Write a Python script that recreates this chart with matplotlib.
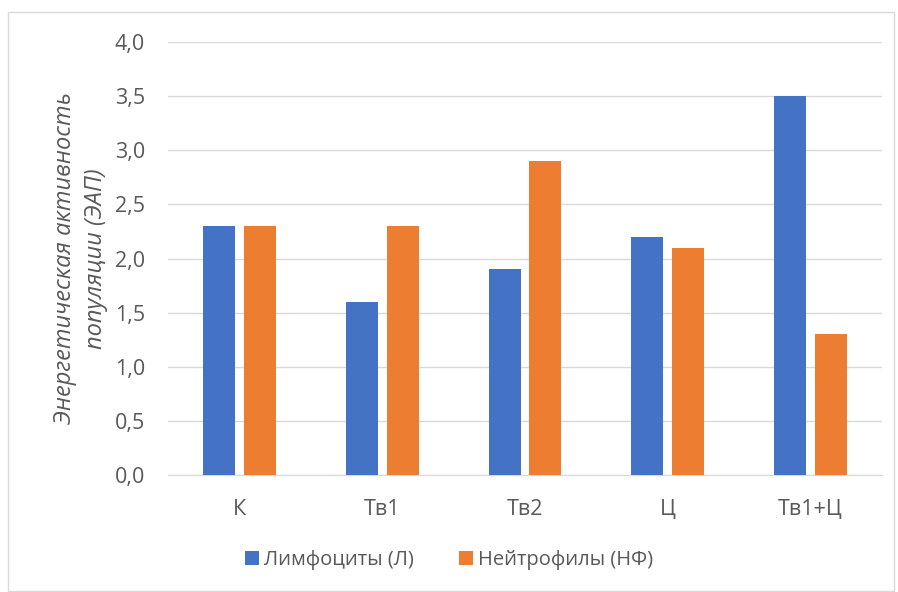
import numpy as np
import matplotlib.pyplot as plt
from matplotlib.patches import Rectangle

# data
categories = ['К', 'Тв1', 'Тв2', 'Ц', 'Тв1+Ц']
lymph = [2.3, 1.6, 1.9, 2.2, 3.5]
neutro = [2.3, 2.3, 2.9, 2.1, 1.3]
yticks = [0.0, 0.5, 1.0, 1.5, 2.0, 2.5, 3.0, 3.5, 4.0]

plt.rcParams['font.family'] = ['Open Sans', 'DejaVu Sans']
grey = '#595959'

fig = plt.figure(figsize=(8.98, 5.92), dpi=100)
fig.patches.append(Rectangle((8/898, 0.002), 0.995 - 8/898, 1 - 12/592 - 0.002,
                             transform=fig.transFigure, fill=False,
                             edgecolor='#d9d9d9', linewidth=1))
ax = fig.add_axes([168/898, 1 - 475/592, 714/898, 433/592])

x = np.arange(len(categories))
w = 0.224
off = 0.1435
ax.bar(x - off, lymph, w, color='#4472c4', label='Лимфоциты (Л)', zorder=3)
ax.bar(x + off, neutro, w, color='#ed7d31', label='Нейтрофилы (НФ)', zorder=3)

ax.set_xlim(-0.5, len(categories) - 0.5)
ax.set_ylim(0, 4.0)
ax.set_yticks(yticks)
ax.set_yticklabels([f'{v:.1f}'.replace('.', ',') for v in yticks])
ax.set_xticks(x)
ax.set_xticklabels(categories)
ax.grid(axis='y', color='#d9d9d9', linewidth=1, zorder=0)
for s in ['top', 'right', 'left']:
    ax.spines[s].set_visible(False)
ax.spines['bottom'].set_color('#d9d9d9')
ax.tick_params(axis='both', length=0, colors=grey, labelsize=15.5)
ax.tick_params(axis='y', pad=16.5)
ax.tick_params(axis='x', pad=17)

ax.set_ylabel('Энергетическая активность\nпопуляции (ЭАП)', fontsize=17,
              style='italic', color=grey, labelpad=5, linespacing=1.4)

fig.legend(loc='center', bbox_to_anchor=(0.5, 1 - 560/592), ncol=2,
           frameon=False, fontsize=14.5, labelcolor=grey, handlelength=0.7,
           handleheight=0.7, handletextpad=0.25, columnspacing=2.2)

fig.savefig('out.png', dpi=100)
